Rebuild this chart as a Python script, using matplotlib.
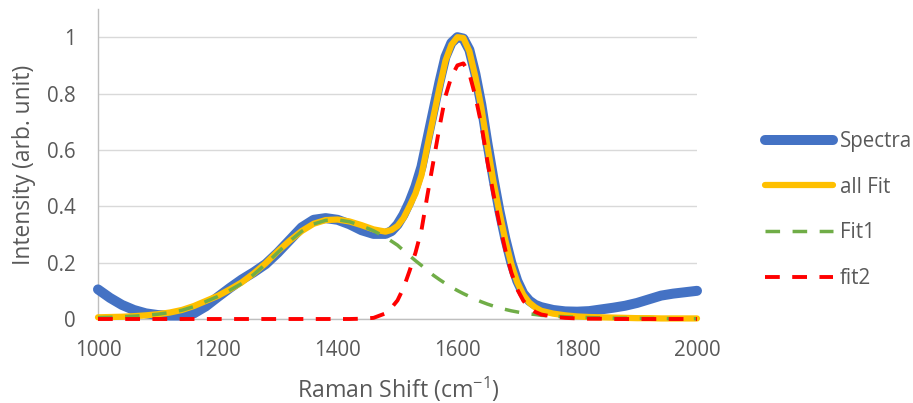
import matplotlib
matplotlib.use("Agg")
import matplotlib.pyplot as plt

plt.rcParams['font.family'] = ['Open Sans', 'DejaVu Sans']
plt.rcParams['mathtext.default'] = 'regular'

# Raman shift sample positions (cm-1)
shift = [1000, 1020, 1040, 1060, 1080, 1100, 1120, 1140, 1160, 1180,
         1200, 1220, 1240, 1260, 1280, 1300, 1320, 1340, 1360, 1380,
         1400, 1420, 1440, 1460, 1480, 1490, 1500, 1510, 1520, 1530,
         1540, 1550, 1560, 1570, 1580, 1590, 1600, 1610, 1620, 1630,
         1640, 1650, 1660, 1670, 1680, 1690, 1700, 1710, 1720, 1730,
         1740, 1760, 1780, 1800, 1820, 1840, 1860, 1880, 1900, 1920,
         1940, 1960, 1980, 2000]

spectra = [0.105, 0.075, 0.050, 0.032, 0.020, 0.014, 0.012, 0.012, 0.020, 0.045,
           0.078, 0.110, 0.140, 0.166, 0.195, 0.235, 0.280, 0.325, 0.352, 0.358,
           0.352, 0.336, 0.315, 0.302, 0.302, 0.312, 0.335, 0.370, 0.415, 0.470,
           0.540, 0.640, 0.740, 0.840, 0.930, 0.980, 1.000, 0.995, 0.955, 0.870,
           0.760, 0.625, 0.500, 0.385, 0.285, 0.200, 0.135, 0.090, 0.065, 0.050,
           0.042, 0.032, 0.027, 0.026, 0.028, 0.034, 0.040, 0.047, 0.057, 0.070,
           0.083, 0.090, 0.095, 0.100]

all_fit = [0.006, 0.007, 0.008, 0.010, 0.013, 0.017, 0.023, 0.032, 0.046, 0.064,
           0.082, 0.105, 0.130, 0.162, 0.198, 0.240, 0.278, 0.312, 0.338, 0.351,
           0.353, 0.346, 0.333, 0.318, 0.310, 0.316, 0.330, 0.358, 0.400, 0.445,
           0.510, 0.615, 0.718, 0.820, 0.916, 0.973, 1.000, 0.997, 0.950, 0.860,
           0.750, 0.615, 0.490, 0.380, 0.280, 0.195, 0.130, 0.086, 0.058, 0.041,
           0.029, 0.019, 0.013, 0.009, 0.007, 0.006, 0.005, 0.004, 0.003, 0.003,
           0.002, 0.002, 0.002, 0.002]

fit1 = [0.005, 0.006, 0.008, 0.010, 0.013, 0.017, 0.023, 0.031, 0.044, 0.062,
        0.080, 0.102, 0.126, 0.158, 0.195, 0.236, 0.276, 0.311, 0.337, 0.350,
        0.352, 0.345, 0.331, 0.313, 0.290, 0.276, 0.262, 0.243, 0.225, 0.207,
        0.190, 0.172, 0.155, 0.140, 0.126, 0.113, 0.101, 0.090, 0.080, 0.070,
        0.061, 0.053, 0.046, 0.039, 0.034, 0.029, 0.025, 0.021, 0.018, 0.016,
        0.013, 0.010, 0.008, 0.006, 0.005, 0.004, 0.003, 0.003, 0.002, 0.002,
        0.002, 0.001, 0.001, 0.001]

fit2 = [0.000, 0.000, 0.000, 0.000, 0.000, 0.000, 0.000, 0.000, 0.000, 0.000,
        0.000, 0.000, 0.000, 0.000, 0.000, 0.000, 0.000, 0.000, 0.000, 0.000,
        0.000, 0.000, 0.001, 0.004, 0.020, 0.040, 0.066, 0.110, 0.170, 0.235,
        0.315, 0.440, 0.560, 0.680, 0.790, 0.860, 0.900, 0.907, 0.870, 0.790,
        0.690, 0.560, 0.445, 0.340, 0.245, 0.165, 0.105, 0.065, 0.040, 0.025,
        0.016, 0.008, 0.004, 0.002, 0.001, 0.001, 0.000, 0.000, 0.000, 0.000,
        0.000, 0.000, 0.000, 0.000]

labels = ["Spectra", "all Fit", "Fit1", "fit2"]
x_ticks = [1000, 1200, 1400, 1600, 1800, 2000]
y_ticks = [0, 0.2, 0.4, 0.6, 0.8, 1.0]
y_ticklabels = ["0", "0.2", "0.4", "0.6", "0.8", "1"]

fig = plt.figure(figsize=(9.13, 4.03), dpi=100)
ax = fig.add_axes([98/913, 1 - 319/403, 599/913, 310/403])

ax.plot(shift, spectra, color='#4472C4', lw=7.2, solid_capstyle='round',
        solid_joinstyle='round', label=labels[0], clip_on=False, zorder=3)
ax.plot(shift, all_fit, color='#FFC000', lw=4.5, solid_capstyle='round',
        solid_joinstyle='round', label=labels[1], clip_on=False, zorder=4)
ax.plot(shift, fit1, color='#70AD47', lw=2.5, dashes=(4.2, 3.6),
        dash_capstyle='butt', label=labels[2], clip_on=False, zorder=5)
ax.plot(shift, fit2, color='#FF0000', lw=2.8, dashes=(3.8, 3.2),
        dash_capstyle='butt', label=labels[3], clip_on=False, zorder=6)

ax.set_xlim(1000, 2000)
ax.set_ylim(0, 1.1)
ax.set_xticks(x_ticks)
ax.set_xticklabels([str(t) for t in x_ticks])
ax.set_yticks(y_ticks)
ax.set_yticklabels(y_ticklabels)

ax.grid(axis='y', color='#D9D9D9', lw=1.0, zorder=0)
ax.set_axisbelow(True)
for s in ['top', 'right']:
    ax.spines[s].set_visible(False)
ax.spines['left'].set_color('#BFBFBF')
ax.spines['left'].set_linewidth(1.0)
ax.spines['bottom'].set_color('#BFBFBF')
ax.spines['bottom'].set_linewidth(1.0)
ax.tick_params(length=0, labelsize=14.8, colors='#595959')
ax.tick_params(axis='y', pad=16)
ax.tick_params(axis='x', pad=15)

fig.text(24/913, 1 - 165/403, "Intensity (arb. unit)", rotation=90,
         ha='center', va='center', fontsize=16.4, color='#595959')
fig.text(398/913, 1 - 389/403, "Raman Shift (cm$^{-1}$)",
         ha='center', va='center', fontsize=16.7, color='#595959')

leg = ax.legend(loc='upper left', bbox_to_anchor=(765/913, 1 - 131/403),
                bbox_transform=fig.transFigure, frameon=False, fontsize=14.8,
                handlelength=3.3, handletextpad=0.34, labelspacing=1.2,
                borderpad=0, borderaxespad=0)
for t in leg.get_texts():
    t.set_color('#595959')

fig.savefig("out.png", dpi=100)
